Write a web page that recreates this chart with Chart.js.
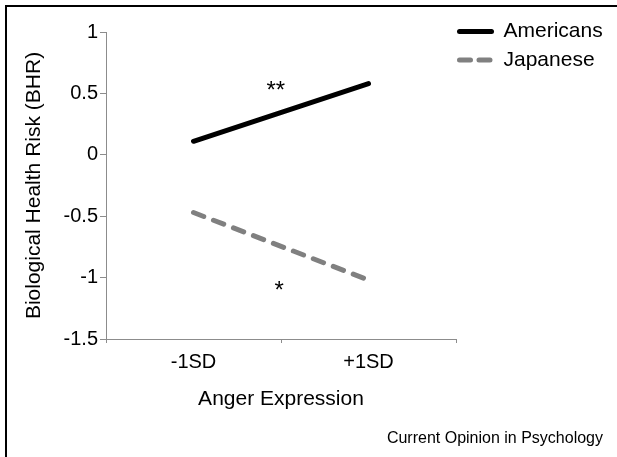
<!DOCTYPE html>
<html><head><meta charset="utf-8">
<script src="https://cdn.jsdelivr.net/npm/chart.js@4.4.1/dist/chart.umd.min.js"></script>
<style>
html,body{margin:0;padding:0;background:#fff;overflow:hidden;width:617px;height:457px;}
#wrap{position:relative;width:617px;height:457px;overflow:hidden;}
#frame{position:absolute;left:5px;top:5px;width:700px;height:600px;border:2px solid #000;box-sizing:border-box;}
#c{position:absolute;left:0;top:0;}
#source{position:absolute;right:14px;top:430px;font-family:"Liberation Sans",Arial,sans-serif;font-size:16px;line-height:16px;color:#000;white-space:nowrap;}
</style></head><body>
<div id="wrap">
<div id="frame"></div>
<canvas id="c" width="617" height="457"></canvas>
<div id="source">Current Opinion in Psychology</div>
</div>
<script>
// ---- data ----
const categories = ['-1SD', '+1SD'];
const seriesNames = ['Americans', 'Japanese'];
const americans = [0.11, 0.58];
const japanese = [-0.47, -1.02];
const yTicks = [-1.5, -1, -0.5, 0, 0.5, 1];
const sigLabels = ['**', '*'];
const sigX = [0.47, 0.49];
const sigY = [0.515, -1.115];

const FONT = '"Liberation Sans", Arial, Helvetica, sans-serif';
const AXIS = '#8c8c8c';
Chart.defaults.font.family = FONT;
Chart.defaults.color = '#000';

const sideLegend = {
  id: 'sideLegend',
  afterDraw(chart) {
    const ctx = chart.ctx, area = chart.chartArea;
    const x0 = area.right + 1;
    chart.data.datasets.forEach((ds, i) => {
      const y = area.top - 0.5 + i * 28.5;
      ctx.save();
      ctx.strokeStyle = ds.borderColor;
      ctx.lineWidth = ds.borderWidth;
      ctx.lineCap = 'round';
      ctx.setLineDash(ds.legendDash || []);
      ctx.beginPath();
      ctx.moveTo(x0 + 2.5, y);
      ctx.lineTo(x0 + 34.5, y);
      ctx.stroke();
      ctx.setLineDash([]);
      ctx.fillStyle = '#000';
      ctx.font = '21px ' + FONT;
      ctx.textAlign = 'left';
      ctx.textBaseline = 'middle';
      ctx.fillText(ds.label, x0 + 46.5, y);
      ctx.restore();
    });
  }
};

const sigMarks = {
  id: 'sigMarks',
  afterDatasetsDraw(chart) {
    const ctx = chart.ctx, xs = chart.scales.x, ys = chart.scales.y;
    ctx.save();
    ctx.fillStyle = '#000';
    ctx.font = '24px ' + FONT;
    ctx.textAlign = 'center';
    ctx.textBaseline = 'middle';
    sigLabels.forEach((t, i) => {
      ctx.fillText(t, xs.getPixelForValue(sigX[i]), ys.getPixelForValue(sigY[i]));
    });
    ctx.restore();
  }
};

new Chart(document.getElementById('c'), {
  type: 'line',
  data: {
    labels: categories,
    datasets: [
      { label: seriesNames[0], data: americans, borderColor: '#000000', borderWidth: 5,
        borderCapStyle: 'round', pointRadius: 0, fill: false, tension: 0 },
      { label: seriesNames[1], data: japanese, borderColor: '#808080', borderWidth: 5,
        borderCapStyle: 'round', borderDash: [11, 10.4], legendDash: [11, 8.5],
        pointRadius: 0, fill: false, tension: 0 }
    ]
  },
  options: {
    responsive: false,
    animation: false,
    devicePixelRatio: 1,
    layout: { padding: { left: 0, top: 32, right: 161, bottom: 0 } },
    plugins: { legend: { display: false }, tooltip: { enabled: false }, title: { display: false } },
    scales: {
      x: {
        type: 'category',
        offset: true,
        grid: { display: true, drawOnChartArea: false, drawTicks: true, tickLength: 4, color: AXIS, offset: true },
        border: { display: true, color: AXIS, width: 1 },
        ticks: { font: { size: 20 }, color: '#000', padding: 7.5, maxRotation: 0, autoSkip: false },
        title: { display: true, text: 'Anger Expression', font: { size: 21 }, color: '#000', padding: { top: 0, bottom: 44.7 } },
        afterFit(s) { s.height = 118; }
      },
      y: {
        min: -1.5, max: 1,
        afterBuildTicks(s) { s.ticks = yTicks.map(v => ({ value: v })); },
        grid: { display: true, drawOnChartArea: false, drawTicks: true, tickLength: 6, color: AXIS },
        border: { display: true, color: AXIS, width: 1 },
        ticks: { font: { size: 20 }, color: '#000', padding: 2, callback: v => String(v) },
        title: { display: true, text: 'Biological Health Risk (BHR)', font: { size: 21 }, color: '#000', padding: { top: 22, bottom: 0 } },
        afterFit(s) { s.width = 106; }
      }
    }
  },
  plugins: [sigMarks, sideLegend]
});
</script>
</body></html>
